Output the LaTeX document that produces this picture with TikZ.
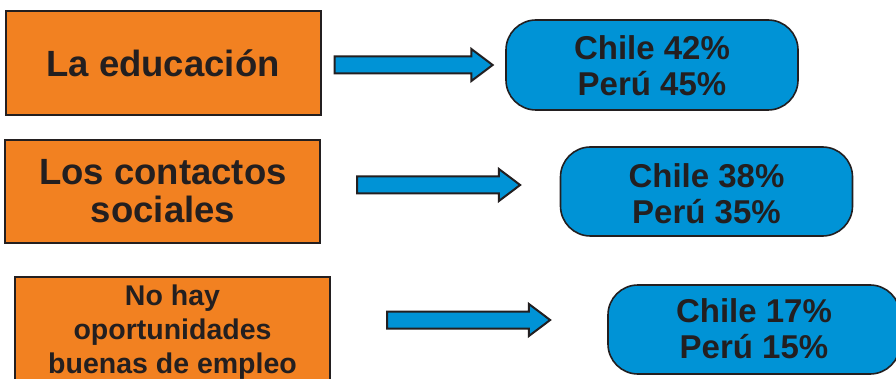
\documentclass[tikz,border=0pt]{standalone}
\usepackage{fontspec}
\setmainfont{Liberation Sans}
\usetikzlibrary{shapes.arrows}
\definecolor{org}{HTML}{F28121}
\definecolor{blu}{HTML}{0093D6}
\definecolor{ink}{HTML}{231F20}
\begin{document}
\begin{tikzpicture}[x=1pt,y=-1pt,
  obox/.style={draw=ink, line width=2pt, fill=org, inner sep=0pt, minimum width=315pt},
  rbox/.style={draw=ink, line width=1.6pt, fill=blu, inner sep=0pt, rounded corners=30pt, minimum width=292pt, minimum height=89pt},
  barrow/.style={single arrow, draw=ink, line width=2pt, fill=blu, inner xsep=0pt, inner ysep=7.5pt,
     minimum width=30pt, single arrow head extend=7.5pt, single arrow tip angle=74, single arrow head indent=0pt},
  big/.style={anchor=base, text=ink, font=\bfseries\fontsize{36.5}{40}\selectfont},
  mid/.style={anchor=base, text=ink, font=\bfseries\fontsize{33}{36}\selectfont},
  sml/.style={anchor=base, text=ink, font=\bfseries\fontsize{28.5}{32}\selectfont}]
\useasboundingbox (0,0) rectangle (896,379);
\clip (0,0) rectangle (896,379);
\fill[white] (0,0) rectangle (896,379);
% left boxes
\node[obox, minimum height=104pt] (b1) at (163.5,63) {};
\node[obox, minimum height=103pt] (b2) at (162.5,191.5) {};
\node[obox, minimum height=104pt] (b3) at (172.5,329) {};
% right boxes
\node[rbox, minimum height=90pt] (r1) at (652,65) {};
\node[rbox] (r2) at (706.5,191.5) {};
\node[rbox] (r3) at (754,329.5) {};
% arrows
\node[barrow, minimum height=158pt] (a1) at (408,65) {};
\node[barrow, minimum height=163pt] (a2) at (433,185) {};
\node[barrow, minimum height=163pt] (a3) at (463,320) {};
% texts
\node[big] (t1) at (163,77) {La educación};
\node[big] (t2a) at (163,185) {Los contactos};
\node[big] (t2b) at (163,223) {sociales};
\node[sml] (t3a) at (172.5,305) {No hay};
\node[sml] (t3b) at (172.5,339) {oportunidades};
\node[sml] (t3c) at (172.5,373) {buenas de empleo};
\node[mid] (s1a) at (652,60) {Chile 42\%};
\node[mid] (s1b) at (652,96) {Perú 45\%};
\node[mid] (s2a) at (706.5,188) {Chile 38\%};
\node[mid] (s2b) at (706.5,224) {Perú 35\%};
\node[mid] (s3a) at (754,322) {Chile 17\%};
\node[mid] (s3b) at (754,358) {Perú 15\%};
\end{tikzpicture}
\end{document}
